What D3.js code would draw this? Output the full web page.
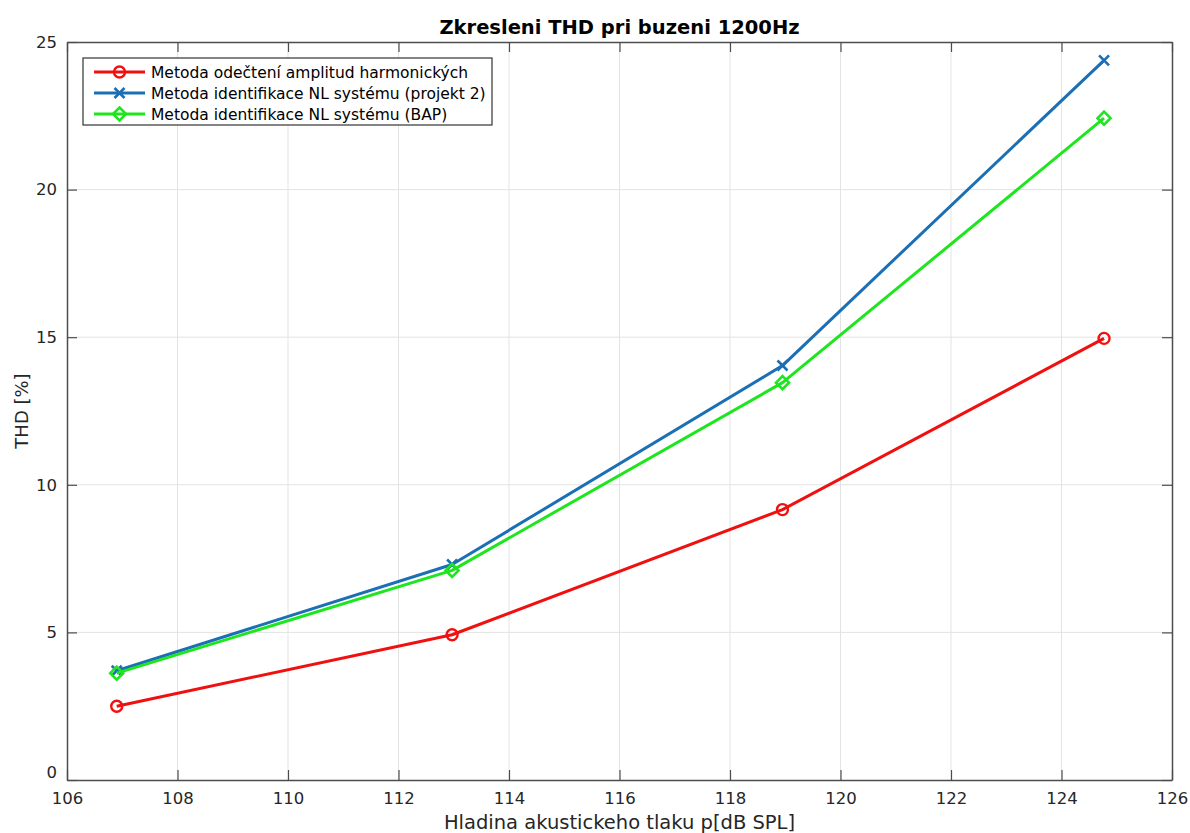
<!DOCTYPE html>
<html>
<head>
<meta charset="utf-8">
<script src="https://cdn.jsdelivr.net/npm/d3@7"></script>
<style>
  html, body { margin: 0; padding: 0; background: #fff; }
  svg { display: block; font-family: "DejaVu Sans", sans-serif; }
</style>
</head>
<body>
<svg id="chart" width="1190" height="833"></svg>
<script>
// Sound pressure level [dB SPL] of each measurement
const levels = [106.9, 112.97, 118.95, 124.77];

// THD [%] for each method
const thdHarmonic = [2.5, 4.92, 9.16, 14.96];
const thdProject2 = [3.7, 7.3, 14.04, 24.38];
const thdBAP = [3.62, 7.1, 13.46, 22.42];

const seriesNames = [
  "Metoda odečtení amplitud harmonických",
  "Metoda identifikace NL systému (projekt 2)",
  "Metoda identifikace NL systému (BAP)"
];
const seriesColors = ["#f01010", "#1a6fb5", "#1ee61e"];
const seriesMarkers = ["circle", "cross", "diamond"];

const xTicks = [106, 108, 110, 112, 114, 116, 118, 120, 122, 124, 126];
const yTicks = [0, 5, 10, 15, 20, 25];

const titleText = "Zkresleni THD pri buzeni 1200Hz";
const xLabel = "Hladina akustickeho tlaku p[dB SPL]";
const yLabel = "THD [%]";

const series = [thdHarmonic, thdProject2, thdBAP].map((vals, i) => ({
  name: seriesNames[i],
  color: seriesColors[i],
  marker: seriesMarkers[i],
  points: vals.map((v, j) => ({ x: levels[j], y: v }))
}));

const svg = d3.select("#chart");
const m = { left: 67, right: 1172, top: 42, bottom: 780 };

const x = d3.scaleLinear().domain([106, 126]).range([m.left, m.right]);
const y = d3.scaleLinear().domain([0, 25]).range([m.bottom, m.top]);

const axisColor = "#4d4d4d";
const gridColor = "#e3e3e3";

// grid
const grid = svg.append("g");
grid.selectAll("line.gx").data(xTicks.slice(1, -1)).join("line")
  .attr("x1", d => x(d)).attr("x2", d => x(d))
  .attr("y1", m.top).attr("y2", m.bottom)
  .attr("stroke", gridColor).attr("stroke-width", 1);
grid.selectAll("line.gy").data(yTicks.slice(1, -1)).join("line")
  .attr("y1", d => y(d)).attr("y2", d => y(d))
  .attr("x1", m.left).attr("x2", m.right)
  .attr("stroke", gridColor).attr("stroke-width", 1);

// axes with inward ticks (box style)
const tickLen = 10;
function styleAxis(g) {
  g.select(".domain").attr("stroke", axisColor).attr("stroke-width", 1.5);
  g.selectAll(".tick line").attr("stroke", axisColor).attr("stroke-width", 1.2);
  g.selectAll(".tick text").attr("fill", "#262626")
    .style("font-family", "'DejaVu Sans', sans-serif").style("font-size", "16.5px");
}
svg.append("g").attr("transform", `translate(0,${m.bottom})`)
  .call(d3.axisBottom(x).tickValues(xTicks).tickSizeInner(-tickLen).tickSizeOuter(0).tickPadding(12).tickFormat(d3.format("d")))
  .call(styleAxis);
svg.append("g").attr("transform", `translate(0,${m.top})`)
  .call(d3.axisTop(x).tickValues(xTicks).tickSizeInner(-tickLen).tickSizeOuter(0).tickFormat(""))
  .call(styleAxis);
svg.append("g").attr("transform", `translate(${m.left},0)`)
  .call(d3.axisLeft(y).tickValues(yTicks).tickSizeInner(-tickLen).tickSizeOuter(0).tickPadding(10).tickFormat(d3.format("d")))
  .call(styleAxis);
svg.append("g").attr("transform", `translate(${m.right},0)`)
  .call(d3.axisRight(y).tickValues(yTicks).tickSizeInner(-tickLen).tickSizeOuter(0).tickFormat(""))
  .call(styleAxis);

// lift the "0" at the origin corner above the x labels
svg.selectAll("text").filter(function () { return this.textContent === "0"; })
  .attr("dy", "-0.15em");

// markers
function drawMarker(g, type, cx, cy, color) {
  if (type === "circle") {
    g.append("circle").attr("cx", cx).attr("cy", cy).attr("r", 5.5)
      .attr("fill", "none").attr("stroke", color).attr("stroke-width", 2.4);
  } else if (type === "cross") {
    const s = 5;
    g.append("path").attr("d", `M${cx - s},${cy - s}L${cx + s},${cy + s}M${cx - s},${cy + s}L${cx + s},${cy - s}`)
      .attr("stroke", color).attr("stroke-width", 2.6).attr("fill", "none");
  } else {
    const s = 6.5;
    g.append("path").attr("d", `M${cx},${cy - s}L${cx + s},${cy}L${cx},${cy + s}L${cx - s},${cy}Z`)
      .attr("stroke", color).attr("stroke-width", 2.6).attr("fill", "none");
  }
}

// series lines
const line = d3.line().x(d => x(d.x)).y(d => y(d.y));
const plot = svg.append("g");
series.forEach(s => {
  plot.append("path").datum(s.points).attr("d", line)
    .attr("fill", "none").attr("stroke", s.color).attr("stroke-width", 3)
    .attr("stroke-linejoin", "round");
  const mg = plot.append("g");
  s.points.forEach(p => drawMarker(mg, s.marker, x(p.x), y(p.y), s.color));
});

// title and axis labels
svg.append("text").attr("x", (m.left + m.right) / 2).attr("y", 34)
  .attr("text-anchor", "middle").attr("font-weight", "bold").attr("font-size", 19.5)
  .attr("fill", "#000").text(titleText);
svg.append("text").attr("x", (m.left + m.right) / 2).attr("y", 829)
  .attr("text-anchor", "middle").attr("font-size", 19.5).attr("fill", "#262626").text(xLabel);
svg.append("text").attr("transform", `translate(28,${(m.top + m.bottom) / 2}) rotate(-90)`)
  .attr("text-anchor", "middle").attr("font-size", 18).attr("fill", "#262626").text(yLabel);

// legend
const lg = svg.append("g");
lg.append("rect").attr("x", 83).attr("y", 58).attr("width", 409).attr("height", 67)
  .attr("fill", "#fff").attr("stroke", "#333").attr("stroke-width", 1.2);
series.forEach((s, i) => {
  const ly = 72 + i * 21;
  lg.append("line").attr("x1", 94).attr("x2", 145).attr("y1", ly).attr("y2", ly)
    .attr("stroke", s.color).attr("stroke-width", 3);
  drawMarker(lg, s.marker, 119.5, ly, s.color);
  lg.append("text").attr("x", 151).attr("y", ly + 5.5).attr("font-size", 15.5)
    .attr("fill", "#000").text(s.name);
});
</script>
</body>
</html>
